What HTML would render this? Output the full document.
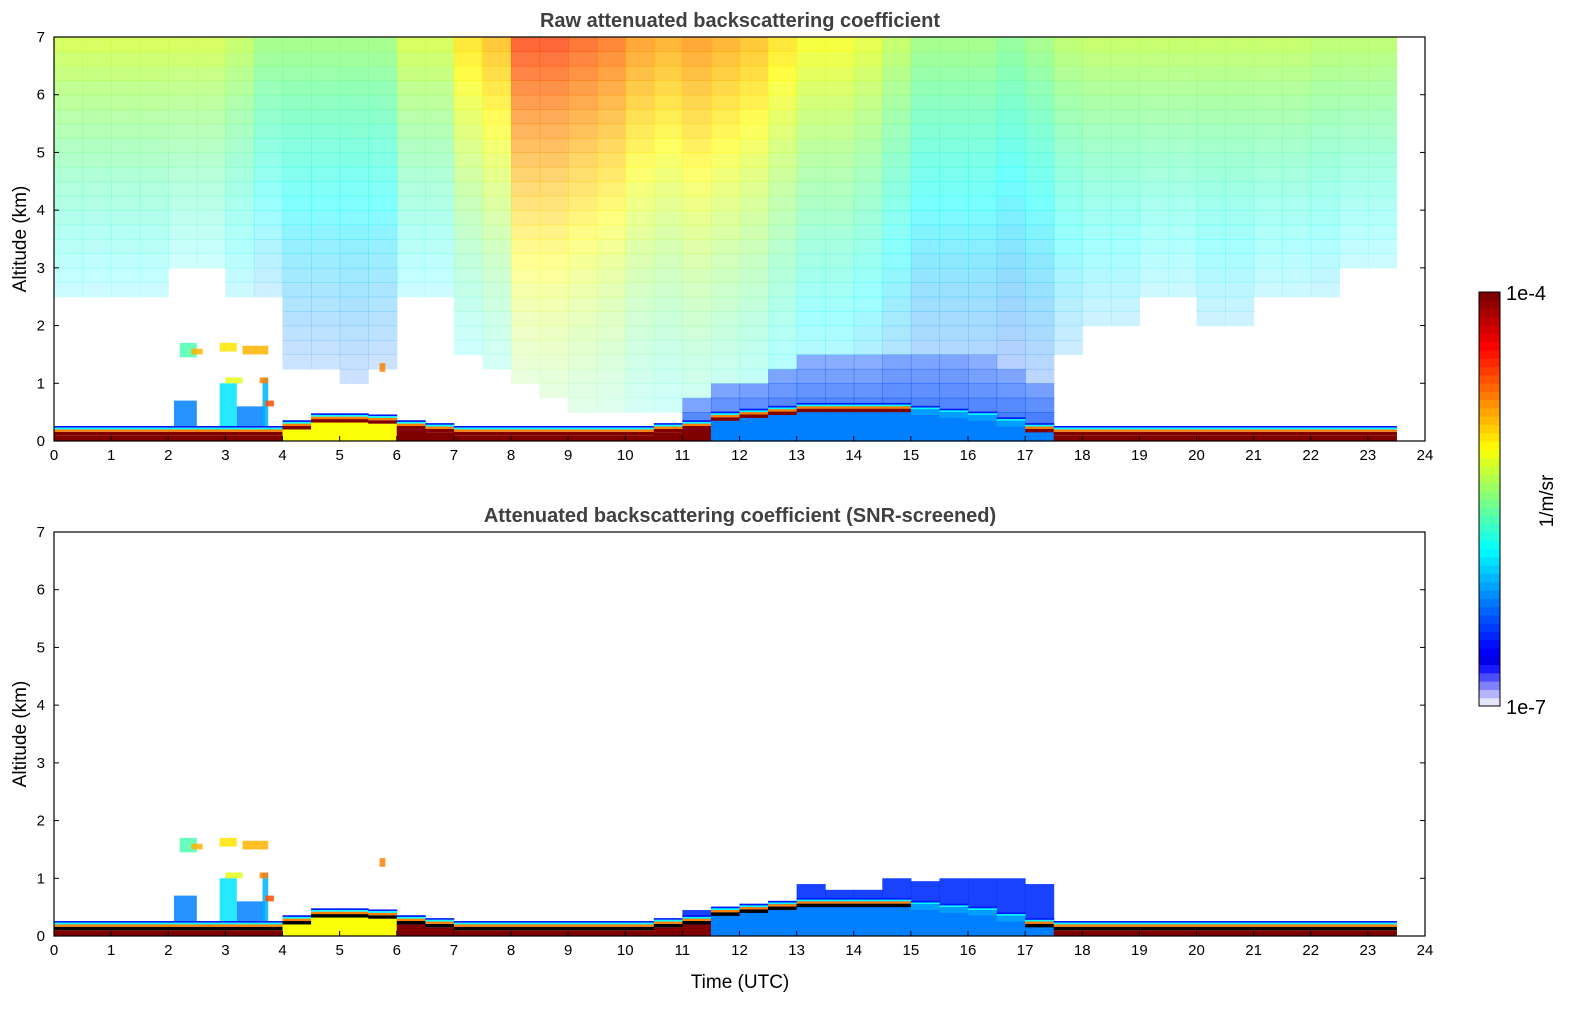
<!DOCTYPE html>
<html><head><meta charset="utf-8"><style>
html,body{margin:0;padding:0;background:#fff;overflow:hidden;font-family:"Liberation Sans","DejaVu Sans",sans-serif;}
svg{display:block}
</style></head><body>
<svg id="fig" width="1595" height="1020" viewBox="0 0 1595 1020" xmlns="http://www.w3.org/2000/svg"></svg>
<script>
// ---- data (half-hour columns, t = 0 .. 23.5 UTC) ----
const times = Array.from({length:48},(_,i)=>i*0.5);
const noiseTop = [.58,.58,.58,.58,.58,.58,.56,.52,.52,.52,.52,.52,.58,.58,.66,.7,.82,.82,.8,.78,.74,.72,.74,.72,.7,.66,.62,.62,.6,.56,.52,.52,.52,.5,.52,.55,.56,.56,.56,.56,.56,.56,.56,.56,.55,.55,.55,0];
const noiseFloor = [2.5,2.5,2.5,2.5,3,3,2.5,2.5,1.2,1.2,1,1.2,2.5,2.5,1.5,1.2,.8,.6,.5,.5,.5,.5,.3,.3,.3,.3,.3,.3,.3,.3,.3,.3,.3,.3,.3,1.5,2,2,2.5,2.5,2,2,2.5,2.5,2.5,3,3,7];
const denseBlue = [0,0,0,0,0,0,0,0,0,0,0,0,0,0,0,0,0,0,0,0,0,0,.6,.9,1,1.2,1.3,1.3,1.3,1.5,1.5,1.5,1.3,1.2,1.0,0,0,0,0,0,0,0,0,0,0,0,0,0];
const blTop = [.2,.2,.2,.2,.2,.2,.2,.2,.3,.42,.42,.4,.3,.25,.2,.2,.2,.2,.2,.2,.2,.25,.3,.45,.5,.55,.6,.6,.6,.6,.55,.5,.45,.35,.25,.2,.2,.2,.2,.2,.2,.2,.2,.2,.2,.2,.2,.2];
const blFill = [1,1,1,1,1,1,1,1,.62,.62,.62,.62,1,1,1,1,1,1,1,1,1,1,1,.25,.25,.25,.25,.25,.25,.25,.25,.25,.25,.25,.25,1,1,1,1,1,1,1,1,1,1,1,1,1];
const blBand = [1,1,1,1,1,1,1,1,1,1,1,1,1,1,1,1,1,1,1,1,1,1,1,1,1,1,1,1,1,1,0,0,0,0,1,1,1,1,1,1,1,1,1,1,1,1,1,1];
const screenedCloudTop = [0,0,0,0,0,0,0,0,0,0,0,0,0,0,0,0,0,0,0,0,0,0,.45,.5,.55,.6,.9,.8,.8,1.0,.95,1.0,1.0,1.0,.9,0,0,0,0,0,0,0,0,0,0,0,0,0];
const cloudT0 = [2.2,2.4,2.9,3.3,2.1,2.9,3.2,3.65,3.7,5.7,3.0,3.6];
const cloudT1 = [2.5,2.6,3.2,3.75,2.5,3.2,3.7,3.75,3.85,5.8,3.3,3.75];
const cloudZ0 = [1.45,1.5,1.55,1.5,.25,.25,.25,.25,.6,1.2,1.0,1.0];
const cloudZ1 = [1.7,1.6,1.7,1.65,.7,1.0,.6,1.1,.7,1.35,1.1,1.1];
const cloudV = [.45,.7,.65,.7,.25,.35,.25,.3,.8,.75,.6,.75];
const xTicks = Array.from({length:25},(_,i)=>i);
const yTicks = [0,1,2,3,4,5,6,7];

const NS="http://www.w3.org/2000/svg";
const svg=document.getElementById('fig');
function mk(tag,attrs,parent){const e=document.createElementNS(NS,tag);for(const k in attrs)e.setAttribute(k,attrs[k]);(parent||svg).appendChild(e);return e;}
function jet(v){const c=x=>Math.round(255*Math.max(0,Math.min(1,x)));return `rgb(${c(1.5-Math.abs(4*v-3))},${c(1.5-Math.abs(4*v-2))},${c(1.5-Math.abs(4*v-1))})`;}
const X0=54,X1=1425,W=X1-X0;
const xs=t=>X0+t*W/24;
function makeAxes(bottom,raw,title,name){
  const H=404, ys=z=>bottom-z*H/7;
  const g=mk('g',{});
  
  
  const cw=W/48;
  if(raw){
    times.forEach((t,i)=>{
      if(noiseTop[i]<=0) return;
      for(let z=0;z<7;z+=0.25){
        let v,a;
        if(z<denseBlue[i]){v=0.2;a=0.8-0.35*(z/denseBlue[i]);}
        else if(z>=noiseFloor[i]){v=Math.max(0.2,noiseTop[i]-0.05*(7-z-0.125));a=0.2+0.6*(z-noiseFloor[i])/(7-noiseFloor[i]);}
        else continue;
        const r=mk('rect',{x:xs(t),y:ys(z+0.25),width:cw+0.6,height:H/28+0.6,fill:jet(v),'fill-opacity':a},g);
        
        
      }
    });
  } else {
    times.forEach((t,i)=>{
      if(screenedCloudTop[i]<=0) return;
      const r=mk('rect',{x:xs(t),y:ys(screenedCloudTop[i]),width:cw+0.5,height:ys(0)-ys(screenedCloudTop[i]),fill:jet(0.17),'fill-opacity':0.9},g);
      
      
    });
  }
  cloudT0.forEach((t0,i)=>{
    const r=mk('rect',{x:xs(t0),y:ys(cloudZ1[i]),width:xs(cloudT1[i])-xs(t0),height:ys(cloudZ0[i])-ys(cloudZ1[i]),fill:jet(cloudV[i]),'fill-opacity':0.85},g);
    
    
  });
  times.forEach((t,i)=>{
    if(t>=23.5) return;
    const top=blTop[i];
    const layers=[[0,top-0.1,blFill[i]],[top+0.03,top+0.06,0.15],[top,top+0.03,0.38]];
    if(blBand[i]) layers.push([top-0.1,top-0.04,raw?1:-1],[top-0.04,top,0.75]);
    else layers.push([top-0.1,top,0.28]);
    layers.forEach(([a,b,v])=>{
      const fill=v<0?'#000':jet(v);
      const r=mk('rect',{x:xs(t),y:ys(b),width:cw+0.5,height:ys(a)-ys(b),fill:fill},g);
      
      
    });
  });
  const f=mk('rect',{x:X0,y:bottom-H,width:W,height:H,fill:'none',stroke:'#000','stroke-width':1.2});
  
  
  xTicks.forEach(t=>{
    mk('line',{x1:xs(t),x2:xs(t),y1:bottom,y2:bottom-5,stroke:'#000'});
    const tx=mk('text',{x:xs(t),y:bottom+19,'font-size':15,'text-anchor':'middle',fill:'#000'});
    tx.textContent=t;
    
    
  });
  yTicks.forEach(z=>{
    mk('line',{x1:X0,x2:X0+5,y1:ys(z),y2:ys(z),stroke:'#000'});
    mk('line',{x1:X1,x2:X1-5,y1:ys(z),y2:ys(z),stroke:'#000'});
    const tx=mk('text',{x:X0-9,y:ys(z)+5,'font-size':15,'text-anchor':'end',fill:'#000'});
    tx.textContent=z;
    
    
  });
  const tt=mk('text',{x:740,y:bottom-H-10,'font-size':20,'font-weight':'bold','text-anchor':'middle',fill:'#404040'});
  tt.textContent=title;
  
  
  const yl=mk('text',{x:0,y:0,'font-size':19,'text-anchor':'middle',transform:`translate(26,${bottom-H/2}) rotate(-90)`});
  yl.textContent='Altitude (km)';
  
  
}
makeAxes(441,true,'Raw attenuated backscattering coefficient','raw-backscatter-panel');
makeAxes(936,false,'Attenuated backscattering coefficient (SNR-screened)','screened-backscatter-panel');
const xl=mk('text',{x:740,y:988,'font-size':19,'text-anchor':'middle'});
xl.textContent='Time (UTC)';


const cb=mk('g',{});


const cbTop=292,cbBot=706,n=50,sh=(cbBot-cbTop)/n;
const lav=['#e6e6fa','#b3b3ff','#8080ff','#4d4dff','#1a1aff'];
for(let i=0;i<n;i++){
  const fill=i<5?lav[i]:jet(0.1+0.9*(i-5)/(n-6));
  mk('rect',{x:1479,y:cbBot-(i+1)*sh,width:21,height:sh+0.5,fill:fill},cb);
}
mk('rect',{x:1479,y:cbTop,width:21,height:cbBot-cbTop,fill:'none',stroke:'#000','stroke-width':1},cb);
const l1=mk('text',{x:1506,y:300,'font-size':20},cb);l1.textContent='1e-4';
const l2=mk('text',{x:1506,y:714,'font-size':20},cb);l2.textContent='1e-7';
const l3=mk('text',{x:0,y:0,'font-size':19,'text-anchor':'middle',transform:'translate(1553,501) rotate(-90)'},cb);l3.textContent='1/m/sr';
</script>
</body></html>
